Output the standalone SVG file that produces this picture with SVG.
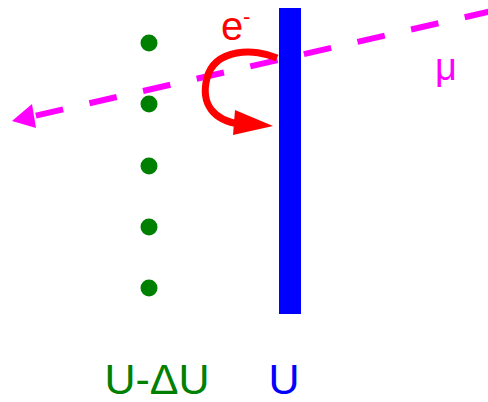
<svg xmlns="http://www.w3.org/2000/svg" width="488" height="402" viewBox="0 0 488 402">
<style>
.dot{fill:#008000}
.lbl{font-family:"Liberation Sans",Arial,sans-serif}
</style>
<rect width="488" height="402" fill="#fff"/>
<g id="dots">
<circle class="dot" cx="149" cy="43" r="8.5"/>
<circle class="dot" cx="149" cy="104" r="8.5"/>
<circle class="dot" cx="149" cy="166" r="8.5"/>
<circle class="dot" cx="149" cy="227" r="8.5"/>
<circle class="dot" cx="149" cy="288" r="8.5"/>
</g>
<g id="connectors">
<line x1="492" y1="11" x2="34" y2="116" stroke="#ff00ff" stroke-width="6" stroke-dasharray="28 27"/>
<polygon points="12,121 32,104 36,128" fill="#ff00ff"/>
</g>
<g id="plate">
<rect x="279" y="8" width="22" height="306" fill="#0000ff"/>
</g>
<g id="electron">
<path d="M 277 58 C 255 48 215 48 207 78 C 200 105 215 121 240 124" fill="none" stroke="#ff0000" stroke-width="7"/>
<polygon points="235,110 273,126 233,135" fill="#ff0000"/>
<text class="lbl" x="221" y="40" font-size="40" fill="#ff0000">e</text>
<text class="lbl" x="243" y="24" font-size="22" fill="#ff0000">-</text>
</g>
<g id="muon-label">
<text class="lbl" x="435" y="80" font-size="38" fill="#ff00ff">μ</text>
</g>
<g id="labels">
<text class="lbl" x="157" y="394" font-size="43" fill="#008000" text-anchor="middle">U-ΔU</text>
<text class="lbl" x="284" y="394" font-size="43" fill="#0000ff" text-anchor="middle">U</text>
</g>
</svg>
